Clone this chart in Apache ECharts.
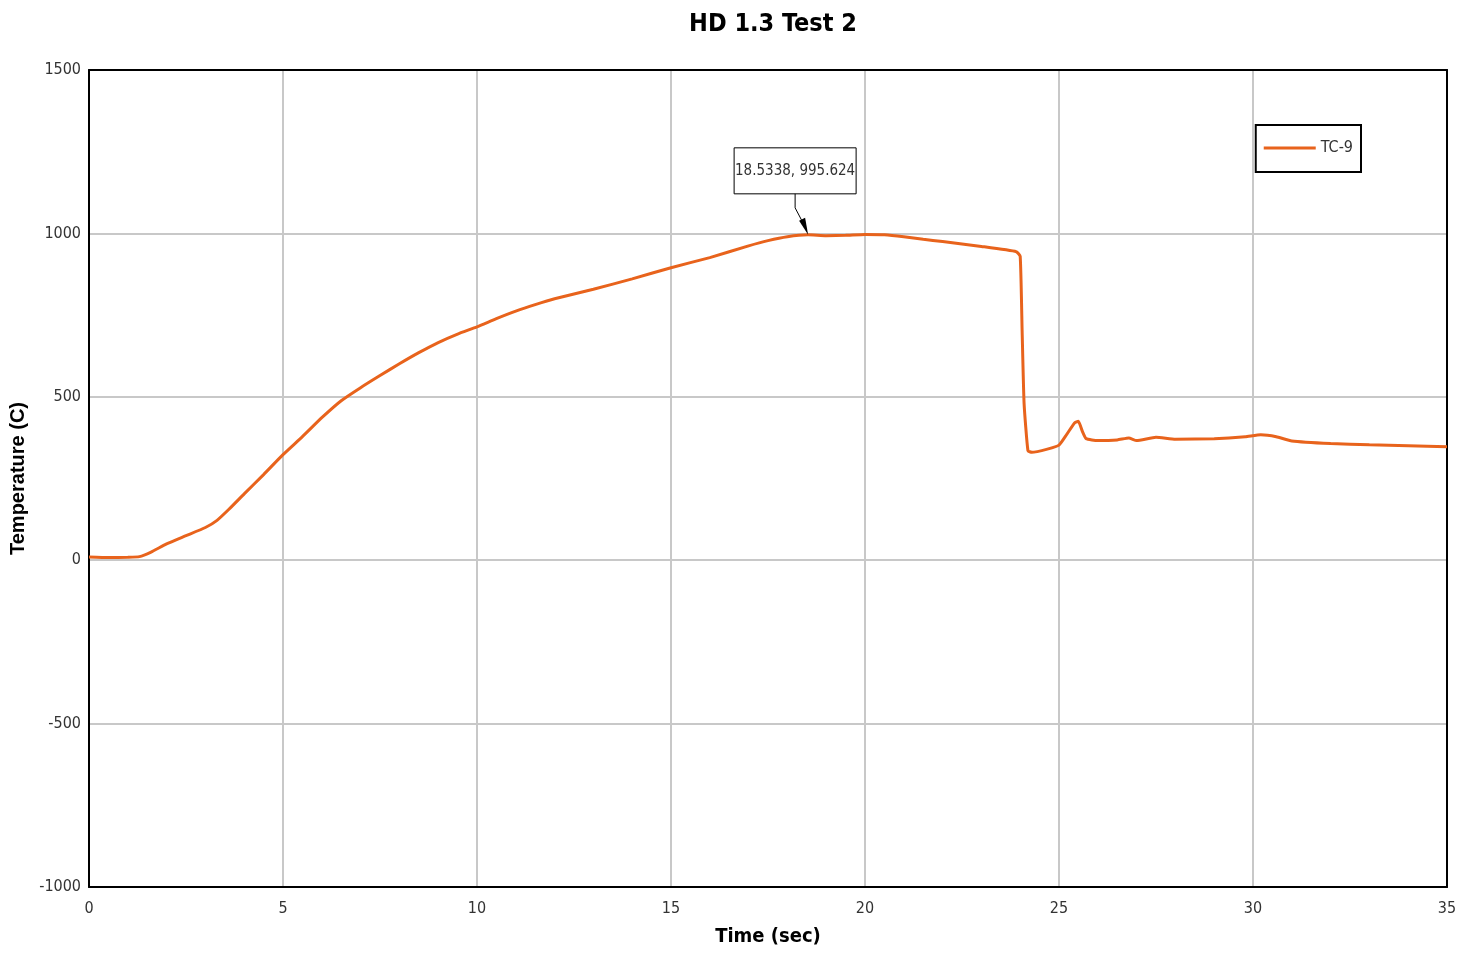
<!DOCTYPE html>
<html>
<head>
<meta charset="utf-8">
<script src="https://cdn.jsdelivr.net/npm/echarts@6/dist/echarts.min.js"></script>
<style>html,body{margin:0;padding:0;background:#fff;}#c{width:1463px;height:958px;}</style>
</head>
<body>
<div id="c"></div>
<script>
const timeSec = [0, 0.5, 1.0, 1.3, 1.6, 2.0, 2.5, 3.0, 3.3, 3.6, 4.0, 4.5, 5.0, 5.5, 6.0, 6.5, 7.0, 7.5, 8.0, 8.5, 9.0, 9.5, 10.0, 10.5, 11.0, 11.5, 12.0, 13.0, 14.0, 15.0, 16.0, 17.0, 17.5, 18.0, 18.5338, 19.0, 19.5, 20.0, 20.5, 21.0, 21.5, 22.0, 23.0, 23.9, 24.0, 24.05, 24.1, 24.2, 24.3, 24.7, 25.0, 25.2, 25.4, 25.5, 25.6, 25.7, 26.0, 26.5, 26.8, 27.0, 27.5, 28.0, 29.0, 29.8, 30.2, 30.6, 31.0, 32.0, 33.0, 34.0, 35.0];
const tc9 = [10, 8, 9, 11, 25, 50, 75, 100, 122, 155, 203, 262, 323, 378, 436, 488, 528, 565, 601, 635, 666, 692, 714, 739, 762, 782, 800, 829, 861, 895, 926, 962, 978, 990, 995.624, 993, 994, 997, 996, 990, 982, 975, 960, 944, 930, 700, 480, 335, 330, 340, 352, 385, 420, 425, 395, 372, 366, 368, 374, 366, 376, 370, 372, 378, 384, 378, 365, 357, 353, 350, 347];
const seriesName = 'TC-9';
const annotX = 18.5338;
const annotY = 995.624;
const titleText = 'HD 1.3 Test 2';
const xName = 'Time (sec)';
const yName = 'Temperature (C)';

const chart = echarts.init(document.getElementById('c'), null, {renderer: 'canvas'});
const narrow = '"DejaVu Sans Condensed", "Liberation Sans Narrow", "Arial Narrow", sans-serif';
const hiddenAxis = (extra) => Object.assign({type: 'value', axisLine: {show: true, onZero: false, lineStyle: {color: '#000', width: 2}}, axisTick: {show: false}, axisLabel: {show: false}, splitLine: {show: false}}, extra);
const option = {
  animation: false,
  backgroundColor: '#fff',
  title: {
    text: titleText, left: 768, textAlign: 'center', top: 7,
    textStyle: {fontFamily: narrow, fontSize: 25, fontWeight: 'bold', color: '#000'}
  },
  legend: {
    data: [seriesName], right: 102, top: 125,
    orient: 'vertical',
    borderColor: '#000', borderWidth: 2, borderRadius: 0,
    padding: [15, 8, 16, 8],
    itemWidth: 52, itemHeight: 3, itemGap: 8,
    icon: 'rect',
    textStyle: {fontFamily: narrow, fontSize: 16, color: '#333'}
  },
  grid: {left: 89, right: 16, top: 70, bottom: 71, containLabel: false, outerBoundsMode: 'none'},
  xAxis: [{
    type: 'value', min: 0, max: 35, interval: 5,
    name: xName, nameLocation: 'middle', nameGap: 40,
    nameTextStyle: {fontFamily: narrow, fontSize: 20, fontWeight: 'bold', color: '#000'},
    axisLine: {show: true, onZero: false, lineStyle: {color: '#000', width: 2}},
    axisTick: {show: false},
    axisLabel: {fontFamily: narrow, fontSize: 16, color: '#333', margin: 14},
    splitLine: {show: true, lineStyle: {color: '#c8c8c8', width: 2}}
  }, hiddenAxis({min: 0, max: 35, position: 'top'})],
  yAxis: [{
    type: 'value', min: -1000, max: 1500, interval: 500,
    name: yName, nameLocation: 'middle', nameGap: 57,
    nameTextStyle: {fontFamily: '"Liberation Sans", Arial, sans-serif', fontSize: 20, fontWeight: 'bold', color: '#000'},
    axisLine: {show: true, onZero: false, lineStyle: {color: '#000', width: 2}},
    axisTick: {show: false},
    axisLabel: {fontFamily: narrow, fontSize: 16, color: '#333', margin: 8, formatter: (v) => String(v)},
    splitLine: {show: true, lineStyle: {color: '#c8c8c8', width: 2}}
  }, hiddenAxis({min: -1000, max: 1500, position: 'right'})],
  series: [{
    name: seriesName, type: 'line',
    data: timeSec.map((t, i) => [t, tc9[i]]),
    showSymbol: false, symbol: 'none',
    smooth: 0.15,
    lineStyle: {color: '#E8631C', width: 3},
    itemStyle: {color: '#E8631C'},
    z: 3
  }]
};
chart.setOption(option);

const p = chart.convertToPixel({xAxisIndex: 0, yAxisIndex: 0}, [annotX, annotY]);
const label = annotX + ', ' + annotY;
const boxW = 122, boxH = 46;
const bx = p[0] - 74, by = p[1] - 87;
const ax = bx + 61;
chart.setOption({
  graphic: [
    {type: 'rect', shape: {x: bx, y: by, width: boxW, height: boxH}, style: {fill: '#fff', stroke: '#000', lineWidth: 1}, z: 10},
    {type: 'text', x: bx + boxW / 2, y: by + boxH / 2, style: {text: label, fontFamily: narrow, fontSize: 15, fill: '#333', align: 'center', verticalAlign: 'middle'}, z: 11},
    {type: 'polyline', shape: {points: [[ax, by + boxH], [ax, by + boxH + 14], [p[0] - 3, p[1] - 8]]}, style: {stroke: '#000', lineWidth: 1, fill: null}, z: 10},
    {type: 'polygon', shape: {points: [[p[0], p[1]], [p[0] - 9, p[1] - 14], [p[0] - 3, p[1] - 17]]}, style: {fill: '#000'}, z: 10}
  ]
});
</script>
</body>
</html>
